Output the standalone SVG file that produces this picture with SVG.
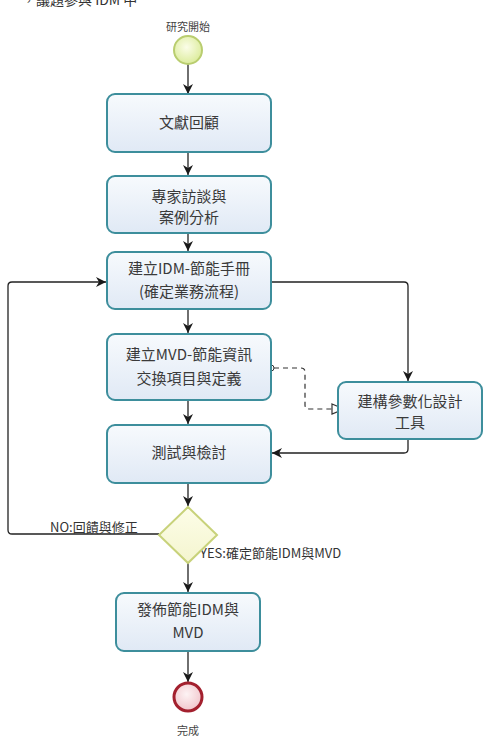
<svg xmlns="http://www.w3.org/2000/svg" width="494" height="747" viewBox="0 0 494 747">
<defs>
<linearGradient id="gBox" x1="0" y1="0" x2="0" y2="1">
<stop offset="0" stop-color="#f7fafd"/><stop offset="1" stop-color="#e0e9f5"/>
</linearGradient>
<radialGradient id="gStart" cx="0.45" cy="0.4" r="0.6">
<stop offset="0" stop-color="#fbfde8"/><stop offset="1" stop-color="#dcec9c"/>
</radialGradient>
<radialGradient id="gEnd" cx="0.45" cy="0.4" r="0.6">
<stop offset="0" stop-color="#fdf3f4"/><stop offset="1" stop-color="#f1c6cc"/>
</radialGradient>
<linearGradient id="gDia" x1="0" y1="0" x2="0" y2="1">
<stop offset="0" stop-color="#fdfde8"/><stop offset="1" stop-color="#f4f5cf"/>
</linearGradient>
<marker id="arr" viewBox="0 0 10 10" refX="10" refY="5" markerWidth="10" markerHeight="10" markerUnits="userSpaceOnUse" orient="auto">
<path d="M0,0 L10,5 L0,10 L3,5 Z" fill="#1a1a1a"/>
</marker>
<marker id="open" viewBox="0 0 14 12" refX="13" refY="6" markerWidth="14" markerHeight="12" markerUnits="userSpaceOnUse" orient="auto">
<path d="M1,1 L13,6 L1,11 Z" fill="#ffffff" stroke="#333" stroke-width="1.2"/>
</marker>
</defs>
<style>
.box{fill:url(#gBox);stroke:#3d8e9c;stroke-width:2}
.t{font-family:"Noto Sans CJK TC","Noto Sans CJK SC",sans-serif;font-size:15px;fill:#3a3a3a;text-anchor:middle}
.lbl{font-family:"Noto Sans CJK TC","Noto Sans CJK SC",sans-serif;font-size:11px;fill:#444;text-anchor:middle}
.el{font-family:"Noto Sans CJK TC","Noto Sans CJK SC",sans-serif;font-size:13px;fill:#333}
.c{fill:none;stroke:#222;stroke-width:1.3}
</style>
<text x="22" y="5" style="font-family:'Noto Sans CJK TC',sans-serif;font-size:14px;fill:#333">，議題參與 IDM 中</text>
<g id="connectors">
<path class="c" d="M188,64 V94" marker-end="url(#arr)"/>
<path class="c" d="M188,152 V175" marker-end="url(#arr)"/>
<path class="c" d="M188,233 V251" marker-end="url(#arr)"/>
<path class="c" d="M188,309 V333" marker-end="url(#arr)"/>
<path class="c" d="M188,400 V424" marker-end="url(#arr)"/>
<path class="c" d="M188,483 V506" marker-end="url(#arr)"/>
<path class="c" d="M188,563 V592" marker-end="url(#arr)"/>
<path class="c" d="M188,651 V682" marker-end="url(#arr)"/>
<path class="c" d="M271,282 H404 Q408,282 408,286 V381" marker-end="url(#arr)"/>
<path class="c" d="M408,439 V449 Q408,453 404,453 H272" marker-end="url(#arr)"/>
<path class="c" d="M159,534 H12 Q8,534 8,530 V286 Q8,282 12,282 H106" marker-end="url(#arr)"/>
<path d="M274,368 H301 Q305,368 305,372 V405 Q305,409 309,409 H344" fill="none" stroke="#333" stroke-width="1.2" stroke-dasharray="5,4" marker-end="url(#open)"/>
<circle cx="271" cy="368" r="3" fill="#fff" stroke="#333" stroke-width="1"/>
<text class="el" x="50" y="532">NO:回饋與修正</text>
<text class="el" x="200" y="558">YES:確定節能IDM與MVD</text>
</g>
<g id="start">
<circle cx="188" cy="50" r="14" fill="url(#gStart)" stroke="#b9cd6f" stroke-width="2"/>
<text class="lbl" x="188" y="31">研究開始</text>
</g>
<g id="n1">
<rect class="box" x="107" y="94" width="164" height="58" rx="8"/>
<text class="t" x="189" y="128">文獻回顧</text>
</g>
<g id="n2">
<rect class="box" x="107" y="176" width="164" height="57" rx="8"/>
<text class="t" x="189" y="202">專家訪談與</text>
<text class="t" x="189" y="223">案例分析</text>
</g>
<g id="n3">
<rect class="box" x="107" y="252" width="164" height="57" rx="8"/>
<text class="t" x="189" y="274">建立IDM-節能手冊</text>
<text class="t" x="189" y="297">(確定業務流程)</text>
</g>
<g id="n4">
<rect class="box" x="107" y="334" width="164" height="66" rx="8"/>
<text class="t" x="189" y="360">建立MVD-節能資訊</text>
<text class="t" x="189" y="384">交換項目與定義</text>
</g>
<g id="n5">
<rect class="box" x="338" y="382" width="144" height="57" rx="8"/>
<text class="t" x="410" y="407">建構參數化設計</text>
<text class="t" x="410" y="428">工具</text>
</g>
<g id="n6">
<rect class="box" x="107" y="425" width="164" height="58" rx="8"/>
<text class="t" x="189" y="458">測試與檢討</text>
</g>
<g id="decision">
<path d="M188,507 L217,535 L188,563 L159,535 Z" fill="url(#gDia)" stroke="#c8d27a" stroke-width="2"/>
</g>
<g id="n7">
<rect class="box" x="116" y="593" width="144" height="58" rx="8"/>
<text class="t" x="188" y="615">發佈節能IDM與</text>
<text class="t" x="188" y="638">MVD</text>
</g>
<g id="end">
<circle cx="188" cy="697" r="14" fill="url(#gEnd)" stroke="#a3202e" stroke-width="3"/>
<text class="lbl" x="188" y="735">完成</text>
</g>
</svg>
